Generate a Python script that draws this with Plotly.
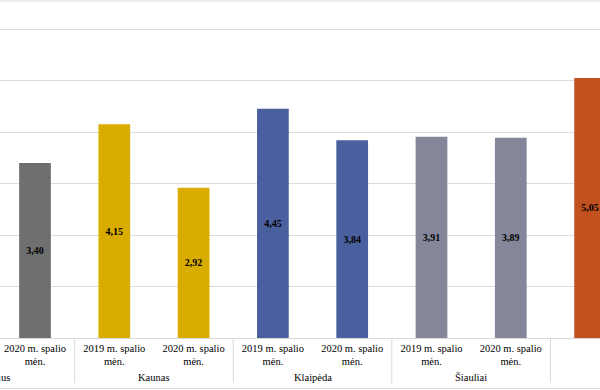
import plotly.graph_objects as go

# ---- data ----
cities = ["Vilnius", "Kaunas", "Klaipėda", "Šiauliai", "Panevėžys"]
periods = ["2019 m. spalio mėn.", "2020 m. spalio mėn."]
values_2019 = [None, 4.15, 4.45, 3.91, 5.05]
values_2020 = [3.40, 2.92, 3.84, 3.89, None]
city_colors = ["#6f6f6f", "#d9ad00", "#4a5f9d", "#848799", "#c1511f"]

# ---- build flat bar list ----
xs, ys, cols, texts, ticktext = [], [], [], [], []
idx = 0
group_centers = []
for ci, city in enumerate(cities):
    start = idx
    for pi, per in enumerate(periods):
        v = (values_2019 if pi == 0 else values_2020)[ci]
        xs.append(idx)
        ys.append(v)
        cols.append(city_colors[ci])
        texts.append("" if v is None else f"{v:.2f}".replace(".", ","))
        words = per.rsplit(" ", 1)
        ticktext.append(words[0] + "<br>" + words[1])
        idx += 1
    group_centers.append((start + idx - 1) / 2)

W, H = 600, 390
ML, MR, MT, MB = 0, 0, 28, 52
plot_h = H - MT - MB
X0, X1 = 0.5586, 8.125
Y1 = 6.02


def px(v):
    return (v - X0) / (X1 - X0)


def py(pixel_y):
    return (H - MB - pixel_y) / plot_h


fig = go.Figure(go.Bar(
    x=xs, y=ys, width=0.4,
    marker=dict(color=cols, line=dict(width=0)),
    text=texts, textposition="inside", insidetextanchor="middle",
    textangle=0, constraintext="none",
    textfont=dict(family="Liberation Serif", size=10, color="#000000", weight="bold"),
    hoverinfo="skip",
))

shapes = []
# group dividers in the label area
for ci in range(len(cities) - 1):
    b = (ci + 1) * len(periods) - 0.5
    shapes.append(dict(type="line", xref="paper", yref="paper",
                       x0=px(b), x1=px(b), y0=0, y1=py(383),
                       line=dict(color="#d9d9d9", width=1)))
# chart border (top and bottom)
for yy in (py(1), py(388.5)):
    shapes.append(dict(type="line", xref="paper", yref="paper",
                       x0=-0.02, x1=1.02, y0=yy, y1=yy,
                       line=dict(color="#d9d9d9", width=1)))

annotations = [dict(text=c, xref="paper", yref="paper", x=px(gc), y=py(378),
                    xanchor="center", yanchor="middle", showarrow=False,
                    font=dict(family="Liberation Serif", size=10.5, color="#000000"))
               for c, gc in zip(cities, group_centers)]

fig.update_layout(
    width=W, height=H,
    margin=dict(l=ML, r=MR, t=MT, b=MB),
    paper_bgcolor="white", plot_bgcolor="white",
    showlegend=False,
    shapes=shapes, annotations=annotations,
    xaxis=dict(range=[X0, X1], tickmode="array", tickvals=xs, ticktext=ticktext,
               showgrid=False, zeroline=False, showline=True, linecolor="#d9d9d9",
               ticks="", tickfont=dict(family="Liberation Serif", size=10.5, color="#000000")),
    yaxis=dict(range=[0, Y1], dtick=1, showgrid=True, gridcolor="#dcdcdc",
               zeroline=False, showticklabels=False, showline=False),
)

fig.write_html("out.html", config={"displayModeBar": False},
               post_script="document.body.style.margin='0';document.body.style.overflow='hidden';")
